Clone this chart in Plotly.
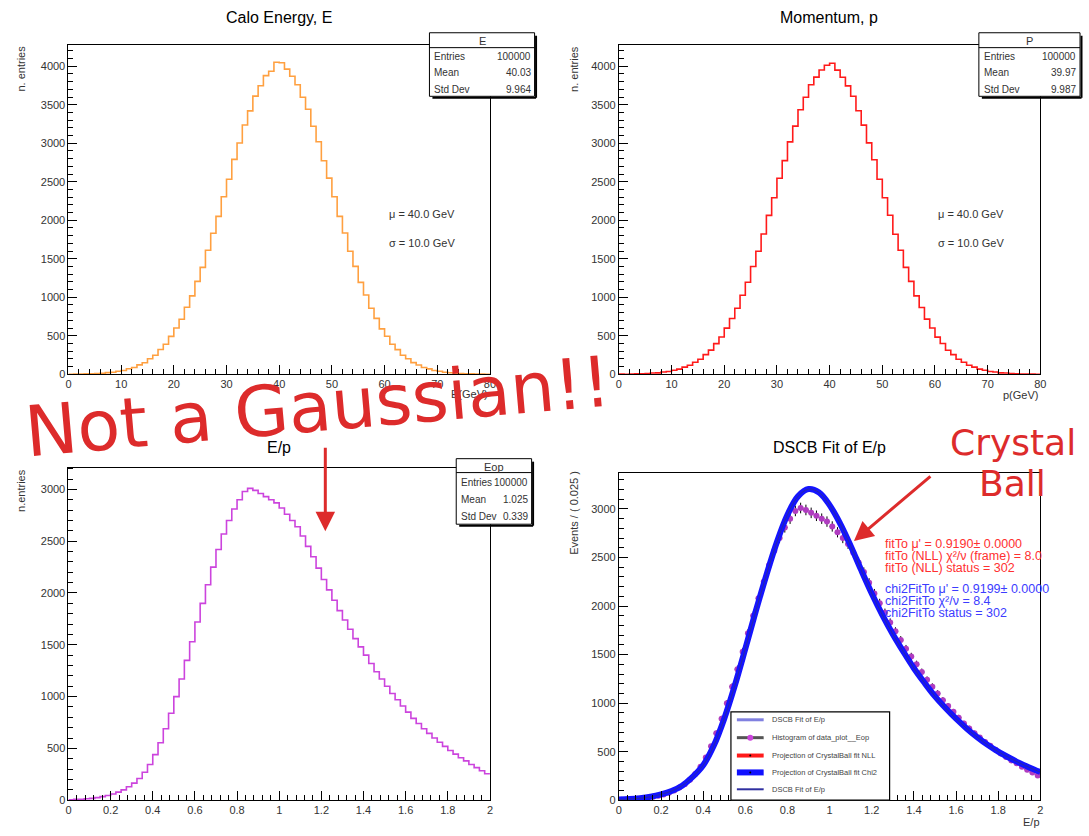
import numpy as np
import plotly.graph_objects as go

W, H = 1089, 836


def px(x):
    return x / W


def py(y):
    return 1 - y / H


# ---------------- data ----------------
# Calo energy histogram, 80 bins of 1 GeV in [0, 80]
energy_counts = [
    1, 3, 2, 6, 8, 11, 14, 22, 27, 40,
    49, 72, 88, 122, 150, 201, 248, 322, 390, 492,
    601, 715, 870, 1018, 1207, 1388, 1611, 1832, 2050, 2306,
    2533, 2791, 3004, 3238, 3420, 3612, 3747, 3878, 3935, 4051,
    4046, 3962, 3871, 3760, 3598, 3441, 3221, 3019, 2772, 2547,
    2305, 2051, 1834, 1598, 1401, 1193, 1029, 858, 726, 590,
    494, 391, 320, 247, 201, 151, 121, 88, 71, 50,
    39, 27, 21, 14, 11, 6, 5, 4, 2, 1,
]

# Momentum histogram, 80 bins of 1 GeV in [0, 80]
momentum_counts = [
    2, 1, 4, 5, 8, 10, 16, 19, 29, 37,
    52, 67, 93, 117, 156, 195, 255, 314, 398, 485,
    599, 724, 858, 1027, 1195, 1399, 1598, 1821, 2064, 2293,
    2546, 2775, 3018, 3222, 3435, 3598, 3760, 3859, 3951, 4012,
    4038, 3950, 3858, 3745, 3611, 3422, 3236, 3005, 2786, 2533,
    2292, 2066, 1819, 1610, 1388, 1206, 1018, 868, 717, 601,
    483, 399, 313, 256, 195, 157, 117, 93, 67, 52,
    37, 29, 19, 16, 9, 7, 4, 3, 2, 1,
]

# E/p histogram, 80 bins of 0.025 in [0, 2]
eop_counts = [
    5, 8, 10, 14, 18, 25, 35, 45,
    60, 78, 100, 130,
    165, 210, 270, 345,
    440, 555, 690, 840,
    1000, 1170, 1350, 1530,
    1720, 1900, 2080, 2250,
    2420, 2570, 2700, 2810,
    2900, 2980, 3010, 2990,
    2960, 2930, 2900, 2870,
    2820, 2760, 2700, 2640,
    2550, 2450, 2350, 2240,
    2130, 2030, 1930, 1830,
    1740, 1650, 1560, 1480,
    1400, 1320, 1240, 1170,
    1100, 1030, 970, 910,
    850, 790, 740, 690,
    645, 600, 560, 520,
    480, 445, 410, 380,
    345, 315, 285, 255,
]

# DSCB fit curve sampled every 0.05 in E/p
dscb_curve = [
    8, 12, 20, 35, 60, 95, 150, 240, 360, 560,
    840, 1180, 1560, 1950, 2320, 2660, 2940, 3130, 3205, 3170,
    3040, 2850, 2620, 2370, 2130, 1910, 1710, 1530, 1360, 1210,
    1070, 950, 840, 740, 650, 570, 500, 440, 385, 335,
    290,
]

e_stats = [("Entries", "100000"), ("Mean", "40.03"), ("Std Dev", "9.964")]
p_stats = [("Entries", "100000"), ("Mean", "39.97"), ("Std Dev", "9.987")]
eop_stats = [("Entries", "100000"), ("Mean", "1.025"), ("Std Dev", "0.339")]

fit_lines_nll = [
    "fitTo μ' = 0.9190± 0.0000",
    "fitTo (NLL) χ²/ν (frame) = 8.0",
    "fitTo (NLL) status = 302",
]
fit_lines_chi2 = [
    "chi2FitTo μ' = 0.9199± 0.0000",
    "chi2FitTo χ²/ν = 8.4",
    "chi2FitTo status = 302",
]

legend_labels = [
    "DSCB Fit of E/p",
    "Histogram of data_plot__Eop",
    "Projection of CrystalBall fit NLL",
    "Projection of CrystalBall fit Chi2",
    "DSCB Fit of E/p",
]

# ---------------- figure ----------------
FONT = "Liberation Sans, Arial, sans-serif"
TXT = "#333333"

fig = go.Figure()

e_edges = np.linspace(0, 80, len(energy_counts) + 1)
p_edges = np.linspace(0, 80, len(momentum_counts) + 1)
eop_edges = np.linspace(0, 2, len(eop_counts) + 1)
eop_centers = 0.5 * (eop_edges[:-1] + eop_edges[1:])
curve_x = np.linspace(0, 2, len(dscb_curve))


def step(edges, counts):
    return list(edges), list(counts) + [counts[-1]]


x, y = step(e_edges, energy_counts)
fig.add_trace(go.Scatter(x=x, y=y, mode="lines", line=dict(shape="hv", color="#ffa040", width=1.6),
                         xaxis="x", yaxis="y", showlegend=False, hoverinfo="skip"))
x, y = step(p_edges, momentum_counts)
fig.add_trace(go.Scatter(x=x, y=y, mode="lines", line=dict(shape="hv", color="#ff1a1a", width=1.6),
                         xaxis="x2", yaxis="y2", showlegend=False, hoverinfo="skip"))
x, y = step(eop_edges, eop_counts)
fig.add_trace(go.Scatter(x=x, y=y, mode="lines", line=dict(shape="hv", color="#cc44dd", width=1.6),
                         xaxis="x3", yaxis="y3", showlegend=False, hoverinfo="skip"))

# Fit panel: data points, NLL projection, chi2 projection
fig.add_trace(go.Scatter(
    x=eop_centers, y=eop_counts, mode="markers",
    marker=dict(color="#b03cc0", size=6, line=dict(width=0)),
    error_y=dict(type="data", array=np.sqrt(eop_counts), color="black", thickness=1, width=0),
    error_x=dict(type="constant", value=0.0125, color="black", thickness=1, width=0),
    xaxis="x4", yaxis="y4", showlegend=False, hoverinfo="skip"))
fig.add_trace(go.Scatter(x=curve_x, y=dscb_curve, mode="lines",
                         line=dict(shape="spline", color="#ff2020", width=4),
                         xaxis="x4", yaxis="y4", showlegend=False, hoverinfo="skip"))
fig.add_trace(go.Scatter(x=curve_x, y=dscb_curve, mode="lines",
                         line=dict(shape="spline", color="#1414ff", width=6),
                         xaxis="x4", yaxis="y4", showlegend=False, hoverinfo="skip"))
fig.add_trace(go.Scatter(x=curve_x, y=dscb_curve, mode="lines",
                         line=dict(shape="spline", color="#2a2aa0", width=1),
                         xaxis="x4", yaxis="y4", showlegend=False, hoverinfo="skip"))

# panel frames in pixels: (left, right, top, bottom)
panels = {
    "1": (66, 491, 45, 377),
    "2": (621, 1046, 45, 377),
    "3": (66, 491, 471, 806),
    "4": (621, 1046, 476, 806),
}
ranges = {
    "1": ([0, 80], [0, 4280], 10, 2, 500, 100),
    "2": ([0, 80], [0, 4280], 10, 2, 500, 100),
    "3": ([0, 2], [0, 3210], 0.2, 0.04, 500, 100),
    "4": ([0, 2], [0, 3375], 0.2, 0.04, 500, 100),
}

layout = dict(
    width=W, height=H,
    margin=dict(l=0, r=0, t=0, b=0),
    paper_bgcolor="white", plot_bgcolor="white",
    font=dict(family=FONT, size=11, color=TXT),
    showlegend=False,
)

for k, (l, r, t, b) in panels.items():
    xr, yr, xd, xm, yd, ym = ranges[k]
    sx = "" if k == "1" else k
    common = dict(showgrid=False, zeroline=False, showline=True, linecolor="black", linewidth=1,
                  mirror=True, ticks="inside", tickcolor="black", tickfont=dict(size=11, color=TXT))
    layout["xaxis" + sx] = dict(
        domain=[px(l), px(r)], range=xr, anchor="y" + sx, dtick=xd, tick0=0, ticklen=9,
        minor=dict(ticks="inside", dtick=xm, ticklen=5, tickcolor="black"),
        **common)
    layout["yaxis" + sx] = dict(
        domain=[py(b), py(t)], range=yr, anchor="x" + sx, dtick=yd, tick0=0, ticklen=9,
        minor=dict(ticks="inside", dtick=ym, ticklen=5, tickcolor="black"),
        **common)

fig.update_layout(**layout)

shapes = []
annotations = []


def ann(x, y, text, size=11, color=TXT, xa="left", ya="middle", angle=0, family=FONT):
    annotations.append(dict(x=px(x), y=py(y), xref="paper", yref="paper", text=text, showarrow=False,
                            xanchor=xa, yanchor=ya, textangle=angle,
                            font=dict(family=family, size=size, color=color)))


# panel titles
ann(278, 18, "Calo Energy, E", size=16, color="black", xa="center")
ann(833, 18, "Momentum, p", size=16, color="black", xa="center")
ann(278, 451, "E/p", size=16, color="black", xa="center")
ann(833, 451, "DSCB Fit of E/p", size=16, color="black", xa="center")

# axis titles
ann(18, 44, "n. entries", size=11, xa="center", ya="top", angle=-90)
ann(575, 44, "n. entries", size=11, xa="center", ya="top", angle=-90)
ann(18, 470, "n.entries", size=11, xa="center", ya="top", angle=-90)
ann(575, 472, "Events / ( 0.025 )", size=11, xa="center", ya="top", angle=-90)
ann(491, 397, "E(GeV)", size=11, xa="right")
ann(1046, 398, "p(GeV)", size=11, xa="right")
ann(1048, 828, "E/p", size=11, xa="right")

# generator parameters
for xx in (387, 941):
    ann(xx, 216, "μ = 40.0 GeV", size=11)
    ann(xx, 245, "σ = 10.0 GeV", size=11)


# ROOT-style statistics boxes
def stats_box(x0, x1, y0, y1, hdr, name, rows):
    shapes.append(dict(type="line", xref="paper", yref="paper", x0=px(x1 + 1.5), x1=px(x1 + 1.5),
                       y0=py(y0 + 3), y1=py(y1 + 1.5), line=dict(color="black", width=2)))
    shapes.append(dict(type="line", xref="paper", yref="paper", x0=px(x0 + 3), x1=px(x1 + 1.5),
                       y0=py(y1 + 1.5), y1=py(y1 + 1.5), line=dict(color="black", width=2)))
    shapes.append(dict(type="rect", xref="paper", yref="paper", x0=px(x0), x1=px(x1),
                       y0=py(y1), y1=py(y0), fillcolor="white", line=dict(color="black", width=1)))
    shapes.append(dict(type="line", xref="paper", yref="paper", x0=px(x0), x1=px(x1),
                       y0=py(hdr), y1=py(hdr), line=dict(color="black", width=1)))
    ann((x0 + x1) / 2, (y0 + hdr) / 2 + 1, name, size=11, xa="center")
    step_y = (y1 - hdr) / len(rows)
    for i, (lab, val) in enumerate(rows):
        yy = hdr + step_y * (i + 0.5) + 1
        ann(x0 + 3, yy, lab, size=10)
        ann(x1 - 2, yy, val, size=10, xa="right")


stats_box(430, 536, 33, 97, 48, "E", e_stats)
stats_box(984, 1086, 33, 97, 48, "P", p_stats)
stats_box(457, 533, 462, 528, 476, "Eop", eop_stats)

# fit results
for i, t in enumerate(fit_lines_nll):
    ann(887, 548 + 12 * i, t, size=12.5, color="#ff3030")
for i, t in enumerate(fit_lines_chi2):
    ann(887, 593 + 12 * i, t, size=12.5, color="#3c3cff")

# legend of the fit panel
shapes.append(dict(type="rect", xref="paper", yref="paper", x0=px(734), x1=px(894),
                   y0=py(806), y1=py(717), fillcolor="white", line=dict(color="black", width=1.2)))
leg_y = [725, 743, 761, 778, 795]
leg_style = [("#8080e0", 3), ("#555555", 3), ("#ff1a1a", 4), ("#1010ff", 6), ("#3030a0", 2)]
for yy, (col, wd), lab in zip(leg_y, leg_style, legend_labels):
    shapes.append(dict(type="line", xref="paper", yref="paper", x0=px(740), x1=px(767),
                       y0=py(yy), y1=py(yy), line=dict(color=col, width=wd)))
    ann(773, yy, lab, size=7.5, color="#444444")
shapes.append(dict(type="circle", xref="paper", yref="paper", x0=px(750.5), x1=px(756.5),
                   y0=py(746), y1=py(740), fillcolor="#cc44dd", line=dict(width=0)))
for yy in (761, 778):
    shapes.append(dict(type="circle", xref="paper", yref="paper", x0=px(752.5), x1=px(754.5),
                       y0=py(yy + 1), y1=py(yy - 1), fillcolor="black", line=dict(width=0)))

# hand-written remarks
RED = "#dd2b2b"
HAND = "DejaVu Sans, sans-serif"
ann(317, 410, "Not a Gaussian!!", size=70, color=RED, xa="center", angle=-5, family=HAND)
ann(1018, 446, "Crystal", size=36, color=RED, xa="center", family=HAND)
ann(1018, 487, "Ball", size=36, color=RED, xa="center", family=HAND)
annotations.append(dict(x=px(325), y=py(535), xref="paper", yref="paper", text="", showarrow=True,
                        ax=0, ay=-85, arrowhead=2, arrowsize=1.3, arrowwidth=3, arrowcolor=RED))
annotations.append(dict(x=px(858), y=py(545), xref="paper", yref="paper", text="", showarrow=True,
                        ax=78, ay=-66, arrowhead=2, arrowsize=1.3, arrowwidth=3, arrowcolor=RED))

fig.update_layout(shapes=shapes, annotations=annotations)
fig.write_html("out.html")
